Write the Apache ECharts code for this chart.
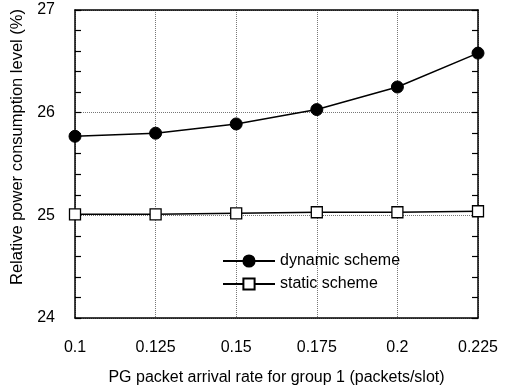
<!DOCTYPE html>
<html><head><meta charset="utf-8">
<script src="https://cdn.jsdelivr.net/npm/echarts@6/dist/echarts.min.js"></script>
<style>html,body{margin:0;padding:0;background:#fff}#c{width:511px;height:388px}</style>
</head><body><div id="c"></div>
<script>
const categories = ['0.1', '0.125', '0.15', '0.175', '0.2', '0.225'];
const dynamicScheme = [25.77, 25.80, 25.89, 26.03, 26.25, 26.58];
const staticScheme = [25.01, 25.01, 25.02, 25.03, 25.03, 25.04];
const xTitle = 'PG packet arrival rate for group 1 (packets/slot)';
const yTitle = 'Relative power consumption level (%)';

const font = 'Liberation Sans, Arial, Helvetica, sans-serif';
const chart = echarts.init(document.getElementById('c'), null, {renderer: 'canvas'});
chart.setOption({
  animation: false,
  backgroundColor: '#fff',
  textStyle: {fontFamily: font, color: '#000'},
  grid: {left: 75, right: 33, top: 10, bottom: 70, containLabel: false, outerBoundsMode: 'none'},
  legend: {
    orient: 'vertical', left: 217, top: 248, itemWidth: 52, itemHeight: 14, itemGap: 7,
    textStyle: {fontFamily: font, fontSize: 16, color: '#000'},
    data: ['dynamic scheme', 'static scheme']
  },
  xAxis: [{
    type: 'category', data: categories, boundaryGap: false,
    name: xTitle, nameLocation: 'middle', nameGap: 52,
    nameTextStyle: {fontFamily: font, fontSize: 16, color: '#000'},
    axisLine: {lineStyle: {color: '#000', width: 1.5}},
    axisTick: {show: false},
    axisLabel: {margin: 22, fontFamily: font, fontSize: 16, color: '#000'},
    splitLine: {show: true, lineStyle: {color: '#777', type: 'dotted', width: 1}}
  }, {
    type: 'category', data: categories, boundaryGap: false, position: 'top',
    axisLine: {lineStyle: {color: '#000', width: 1.5}},
    axisTick: {show: false}, axisLabel: {show: false}, splitLine: {show: false}
  }],
  yAxis: [{
    type: 'value', min: 24, max: 27, interval: 1,
    name: yTitle, nameLocation: 'middle', nameGap: 46,
    nameTextStyle: {fontFamily: font, fontSize: 16.5, color: '#000', padding: [0, 0, 0, 34]},
    axisLine: {show: true, lineStyle: {color: '#000', width: 1.5}},
    axisTick: {show: true, inside: true, length: 6, lineStyle: {color: '#000', width: 1.2}},
    minorTick: {show: true, splitNumber: 5, length: 6, lineStyle: {color: '#000', width: 1.2}},
    axisLabel: {margin: 20, fontFamily: font, fontSize: 16, color: '#000', padding: [6, 0, 0, 0]},
    splitLine: {show: true, lineStyle: {color: '#777', type: 'dotted', width: 1}}
  }, {
    type: 'value', min: 24, max: 27, interval: 1, position: 'right',
    axisLine: {show: true, lineStyle: {color: '#000', width: 1.5}},
    axisTick: {show: true, inside: true, length: 6, lineStyle: {color: '#000', width: 1.2}},
    minorTick: {show: true, splitNumber: 5, length: 6, lineStyle: {color: '#000', width: 1.2}},
    axisLabel: {show: false}, splitLine: {show: false}
  }],
  series: [{
    name: 'dynamic scheme', type: 'line', data: dynamicScheme,
    symbol: 'circle', symbolSize: 12,
    lineStyle: {color: '#000', width: 1.5},
    itemStyle: {color: '#000', borderColor: '#000', borderWidth: 1}
  }, {
    name: 'static scheme', type: 'line', data: staticScheme,
    symbol: 'rect', symbolSize: 11,
    lineStyle: {color: '#000', width: 1.5},
    itemStyle: {color: '#fff', borderColor: '#000', borderWidth: 1.3}
  }]
});
</script></body></html>
